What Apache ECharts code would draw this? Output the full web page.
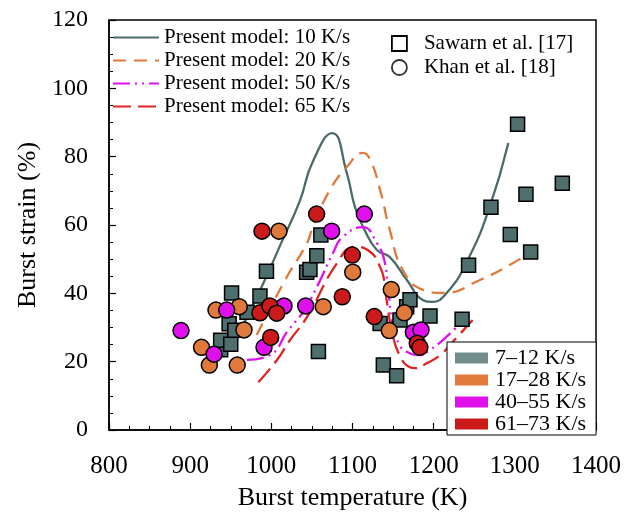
<!DOCTYPE html>
<html><head><meta charset="utf-8">
<script src="https://cdn.jsdelivr.net/npm/echarts@6/dist/echarts.min.js"></script>
<style>html,body{margin:0;padding:0;background:#fff}#c{width:635px;height:518px}</style>
</head><body><div id="c"></div>
<script>
// Model curves [T (K), strain (%)]
var model10 = [[967,31.5],[992,43.9],[1011,54.1],[1035,67],[1051,78.5],[1075,86.9],[1093,75.2],[1103,65.3],[1115,58.5],[1130,52.7],[1146,50.6],[1167,43.9],[1187,38],[1198,37.5],[1216,40.1],[1242,49.8],[1269,65.3],[1292,84]];
var model20 = [[982,27.8],[1017,43.9],[1044,54.7],[1051,59.4],[1072,70.2],[1093,77],[1113,81.1],[1122,79],[1134,70.2],[1146,58.5],[1162,46.8],[1187,41],[1212,40.1],[1257,43.9],[1298,48.9],[1327,53.3]];
var model50 = [[970,20.5],[998,21.9],[1021,29.3],[1039,34.5],[1056,41.8],[1076,51.8],[1088,56.5],[1113,59.4],[1130,54.7],[1139,49.8],[1144,41],[1150,30.1],[1158,24.9],[1165,23.1],[1183,21.9],[1195,23.4],[1214,26.9],[1241,33.1]];
var model65 = [[984,14],[1007,20.5],[1023,26.3],[1044,33.1],[1081,48.9],[1103,53.6],[1122,52.1],[1134,47.7],[1139,43.9],[1142,38],[1150,27.2],[1158,21.9],[1168,18.7],[1177,18.1],[1192,19.6],[1208,21.9],[1220,24.9],[1248,32.2]];
// Sawarn et al. [17] (7–12 K/s), squares
var sawarn = [[937.6,23.5],[937.6,26.3],[948,31.1],[950,25.1],[951,40.1],[955,29.2],[970,34.5],[986,39.2],[994,46.5],[1043.5,46.2],[1047.6,47],[1056,51],[1061,57.1],[1058,23],[1134,31.2],[1138,19],[1154.4,15.9],[1158.5,32.2],[1166.7,36.1],[1170.8,38.1],[1195.5,33.4],[1235,32.4],[1243,48.2],[1270.6,65.2],[1294.4,57.2],[1303.4,89.5],[1313.7,69],[1319.5,52.1],[1358.5,72.2]];
// Khan et al. [18], circles by heating rate
var khan17_28 = [[914,24.2],[923.6,19],[931.8,35.1],[958,19],[960.5,36.1],[966.3,29.3],[1009.4,58.2],[1064,36.1],[1100.3,46.2],[1147.8,41.1],[1145.3,29.1],[1163.8,34.3]];
var khan40_55 = [[888.7,29.1],[929.4,22.2],[945,35.1],[991,24.2],[1015.6,36.3],[1042.4,36.3],[1074.3,58.2],[1114.6,63.2],[1175,28.6],[1184.4,29.3]];
var khan61_73 = [[986,34.3],[988.5,58.2],[998.3,36.3],[1006.6,34.2],[999.2,27.1],[1055.8,63.2],[1087.4,39],[1099.8,51.2],[1126.8,33.2],[1179.8,25.4],[1183,24.2]];
var xTicks = [800,900,1000,1100,1200,1300,1400];
var yTicks = [0,20,40,60,80,100,120];

var C_TEAL='#4a6b6b', C_SQ='#4f6f6f', C_OR='#e07a3c', C_MG='#e010ec', C_RD='#cc1a1a', C_RDL='#e02424';
var FONT='"Liberation Serif","Times New Roman",serif';
var chart = echarts.init(document.getElementById('c'));
function lineS(name,data,color,type){
  return {name:name,type:'line',data:data,smooth:0.5,symbol:'none',z:2,
    lineStyle:{color:color,width:2.3,type:type},itemStyle:{color:color}};
}
function circS(name,data,color){
  return {name:name,type:'scatter',data:data,symbol:'circle',symbolSize:16,z:4,
    itemStyle:{color:color,borderColor:'#000',borderWidth:1.5,opacity:1}};
}
chart.setOption({
  animation:false,
  grid:{left:109,right:39,top:20,bottom:88,show:true,borderColor:'#000',borderWidth:1.5,backgroundColor:'transparent'},
  xAxis:{type:'value',min:xTicks[0],max:xTicks[xTicks.length-1],interval:100,
    axisLine:{lineStyle:{color:'#000',width:1.5}},
    axisTick:{inside:true,length:7,lineStyle:{color:'#000',width:1.2}},
    minorTick:{show:true,splitNumber:4,length:4,lineStyle:{color:'#000',width:1}},
    splitLine:{show:false},
    axisLabel:{color:'#000',fontFamily:FONT,fontSize:25,margin:24,formatter:function(v){return String(v);}},
    name:'Burst temperature (K)',nameLocation:'middle',nameGap:55,
    nameTextStyle:{color:'#000',fontFamily:FONT,fontSize:26}},
  yAxis:{type:'value',min:yTicks[0],max:yTicks[yTicks.length-1],interval:20,
    axisLine:{lineStyle:{color:'#000',width:1.5}},
    axisTick:{inside:true,length:7,lineStyle:{color:'#000',width:1.2}},
    minorTick:{show:true,splitNumber:4,length:4,lineStyle:{color:'#000',width:1}},
    splitLine:{show:false},
    axisLabel:{color:'#000',fontFamily:FONT,fontSize:24,margin:21,formatter:function(v){return String(v);}},
    name:'Burst strain (%)',nameLocation:'middle',nameGap:68,
    nameTextStyle:{color:'#000',fontFamily:FONT,fontSize:26}},
  legend:[
    {orient:'vertical',left:112,top:27,itemWidth:46,itemHeight:14,itemGap:2,selectedMode:false,
     itemStyle:{opacity:0},
     textStyle:{fontFamily:FONT,fontSize:21,color:'#000'},padding:0,
     data:['Present model: 10 K/s','Present model: 20 K/s','Present model: 50 K/s','Present model: 65 K/s']},
    {orient:'vertical',left:391,top:33,itemWidth:15,itemHeight:15,itemGap:3,selectedMode:false,padding:0,
     textStyle:{fontFamily:FONT,fontSize:21,color:'#000',padding:[0,0,0,12]},
     data:[{name:'Sawarn et al. [17]',icon:'rect',itemStyle:{color:'#fff',borderColor:'#000',borderWidth:1.8}},
           {name:'Khan et al. [18]',icon:'circle',itemStyle:{color:'#fff',borderColor:'#000',borderWidth:1.8}}]},
    {orient:'vertical',left:447,top:342,itemWidth:33,itemHeight:11,itemGap:0,selectedMode:false,
     padding:[5,10,0,8],borderColor:'#000',borderWidth:1,backgroundColor:'#fff',
     textStyle:{fontFamily:FONT,fontSize:22,color:'#000',padding:[0,0,0,2]},
     data:[{name:'7–12 K/s',icon:'rect',itemStyle:{color:C_SQ,borderWidth:0}},
           {name:'17–28 K/s',icon:'rect',itemStyle:{color:C_OR,borderWidth:0}},
           {name:'40–55 K/s',icon:'rect',itemStyle:{color:C_MG,borderWidth:0}},
           {name:'61–73 K/s',icon:'rect',itemStyle:{color:C_RD,borderWidth:0}}]}
  ],
  series:[
    lineS('Present model: 10 K/s',model10,C_TEAL,'solid'),
    lineS('Present model: 20 K/s',model20,C_OR,[13,8]),
    lineS('Present model: 50 K/s',model50,C_MG,[17,5,2,5,2,5]),
    lineS('Present model: 65 K/s',model65,C_RDL,[18,7]),
    {name:'Sawarn et al. [17]',type:'scatter',data:sawarn,symbol:'rect',symbolSize:14,z:3,
     itemStyle:{color:C_SQ,borderColor:'#000',borderWidth:1.5,opacity:1}},
    circS('17–28 K/s',khan17_28,C_OR),
    circS('40–55 K/s',khan40_55,C_MG),
    circS('61–73 K/s',khan61_73,C_RD),
    {name:'Khan et al. [18]',type:'scatter',data:[]},
    {name:'7–12 K/s',type:'scatter',data:[],itemStyle:{color:C_SQ}}
  ]
});
</script></body></html>
